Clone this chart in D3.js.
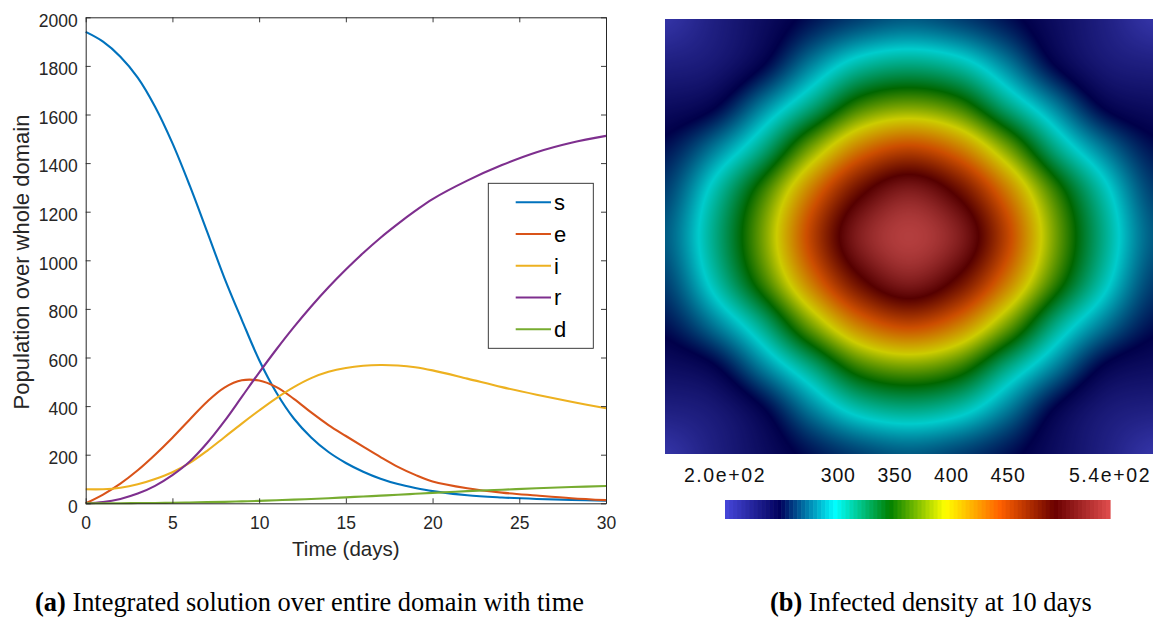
<!DOCTYPE html>
<html><head><meta charset="utf-8">
<script src="https://cdn.jsdelivr.net/npm/d3@7"></script>
<style>body{margin:0;background:#fff}svg{display:block}</style>
</head><body>
<svg id="fig" width="1154" height="618"></svg>
<script>
// ---------- data: left panel (integrated populations) ----------
const timeDays = [0,1,2,3,4,5,6,7,8,9,10,11,12,13,14,15,16,17,18,19,20,22,24,26,28,30];
const sValues = [1940,1900,1838,1752,1632,1482,1307,1118,927,755,590,455,349,271,211,166,130,101,79,63,50,33,24,18,14,11];
const eValues = [0,36,81,136,200,270,345,418,476,506,505,478,430,374,322,277,233,190,150,117,90,62,44,32,21,13];
const iValues = [58,58,64,78,100,128,166,216,272,328,382,433,478,515,541,557,566,569,567,560,547,513,478,447,418,391];
const rValues = [0,5,18,40,72,116,172,248,338,438,538,634,725,810,889,962,1030,1093,1150,1203,1252,1328,1392,1445,1484,1512];
const dValues = [0,0.2,0.5,1,1.5,2.3,3.5,4.8,6,8,10,12.5,15,18,21,24.5,28,31.5,35,39,43,50,56,62,67,71];
const seriesNames = ["s","e","i","r","d"];
const seriesColors = ["#0072BD","#D95319","#EDB120","#7E2F8E","#77AC30"];
const xTickValues = [0,5,10,15,20,25,30];
const yTickValues = [0,200,400,600,800,1000,1200,1400,1600,1800,2000];

// ---------- data: right panel (infected density at 10 days), 11x11 grid, top row first ----------
const densityGrid = [
  [205,222,238,253,264,270,264,253,238,222,205],
  [222,228,247,278,304,313,304,278,247,228,222],
  [238,247,279,316,359,373,359,316,279,247,238],
  [253,278,316,376,428,450,428,376,316,278,253],
  [264,304,359,428,487,516,487,428,359,304,264],
  [270,313,373,450,516,540,516,450,373,313,270],
  [264,304,359,428,487,516,487,428,359,304,264],
  [253,278,316,376,428,450,428,376,316,278,253],
  [238,247,279,316,359,373,359,316,279,247,238],
  [222,228,247,278,304,313,304,278,247,228,222],
  [205,222,238,253,264,270,264,253,238,222,205]
];
const densityRange = [200, 540];
const colormapColors = ["#4747db","#00005c","#00ffff","#008000","#ffff00","#ff6100","#6b0000","#e04d4d"];
const colorbarLabels = ["2.0e+02","300","350","400","450","5.4e+02"];
const colorbarLabelValues = [200,300,350,400,450,540];

// ---------- drawing ----------
const svg = d3.select("#fig");
const FONT = "'Liberation Sans', Arial, Helvetica, sans-serif";
const AX = "#262626";

// Left panel
const plot = {left:85.7, right:606, top:17.3, bottom:503.3};
const x = d3.scaleLinear().domain([0,30]).range([plot.left, plot.right]);
const y = d3.scaleLinear().domain([0,2000]).range([plot.bottom, plot.top]);

const gL = svg.append("g");
const seriesData = [sValues,eValues,iValues,rValues,dValues];
const line = d3.line().x((d,k)=>x(timeDays[k])).y(d=>y(d)).curve(d3.curveCatmullRom.alpha(0.5));
seriesData.forEach((vals, k) => {
  gL.append("path").attr("d", line(vals)).attr("fill","none")
    .attr("stroke", seriesColors[k]).attr("stroke-width", 2.1).attr("stroke-linejoin","round");
});

// axes (box, inward ticks)
const tick = 5;
const axB = d3.axisBottom(x).tickValues(xTickValues).tickSize(-tick).tickPadding(13).tickSizeOuter(0).tickFormat(d3.format("d"));
const axT = d3.axisTop(x).tickValues(xTickValues).tickSize(-tick).tickFormat("").tickSizeOuter(0);
const axLft = d3.axisLeft(y).tickValues(yTickValues).tickSize(-tick).tickPadding(8).tickSizeOuter(0).tickFormat(d3.format("d"));
const axR = d3.axisRight(y).tickValues(yTickValues).tickSize(-tick).tickFormat("").tickSizeOuter(0);
function style(g){
  g.selectAll("path.domain").attr("stroke",AX).attr("stroke-width",1);
  g.selectAll(".tick line").attr("stroke",AX).attr("stroke-width",0.9);
  g.selectAll(".tick text").attr("fill",AX).style("font-family",FONT).style("font-size","17.5px");
}
gL.append("g").attr("transform",`translate(0,${plot.bottom})`).call(axB).call(style)
  .selectAll(".tick text").attr("dy","0.71em");
gL.append("g").attr("transform",`translate(0,${plot.top})`).call(axT).call(style);
gL.append("g").attr("transform",`translate(${plot.left},0)`).call(axLft).call(style)
  .selectAll(".tick text").attr("dy","0.5em");
gL.append("g").attr("transform",`translate(${plot.right},0)`).call(axR).call(style);

gL.append("text").attr("x",(plot.left+plot.right)/2).attr("y",556)
  .attr("text-anchor","middle").attr("fill",AX).style("font-family",FONT).style("font-size","20.5px")
  .text("Time (days)");
gL.append("text").attr("transform","translate(29,262) rotate(-90)")
  .attr("text-anchor","middle").attr("fill",AX).style("font-family",FONT).style("font-size","22px")
  .text("Population over whole domain");

// legend
const lg = gL.append("g");
lg.append("rect").attr("x",488.3).attr("y",183.3).attr("width",105).attr("height",165)
  .attr("fill","#fff").attr("stroke",AX).attr("stroke-width",0.9);
seriesNames.forEach((nm,k)=>{
  const yy = 202.3 + k*31.75;
  lg.append("line").attr("x1",515.7).attr("x2",551).attr("y1",yy).attr("y2",yy)
    .attr("stroke",seriesColors[k]).attr("stroke-width",2.1);
  lg.append("text").attr("x",554).attr("y",yy+7.8).attr("fill","#000")
    .style("font-family",FONT).style("font-size","22px").text(nm);
});

// Right panel heatmap
const img = {left:665, top:19, width:488, height:435};
const nGrid = densityGrid.length - 1;
const colorStops = colormapColors.map((c,k)=> densityRange[0] + k*(densityRange[1]-densityRange[0])/(colormapColors.length-1));
const color = d3.scaleLinear().domain(colorStops).range(colormapColors).clamp(true);

function cubic(p0,p1,p2,p3,t){
  return p1 + 0.5*t*(p2-p0 + t*(2*p0-5*p1+4*p2-p3 + t*(3*(p1-p2)+p3-p0)));
}
function sampleGrid(gx, gy){
  const ix = Math.min(nGrid-1, Math.max(0, Math.floor(gx))), fx = gx-ix;
  const iy = Math.min(nGrid-1, Math.max(0, Math.floor(gy))), fy = gy-iy;
  const cl = v => Math.min(nGrid, Math.max(0, v));
  const rows = [];
  for (let j=-1;j<=2;j++){
    const r = densityGrid[cl(iy+j)];
    rows.push(cubic(r[cl(ix-1)], r[cl(ix)], r[cl(ix+1)], r[cl(ix+2)], fx));
  }
  return cubic(rows[0],rows[1],rows[2],rows[3],fy);
}
const gx = d3.scaleLinear().domain([0, img.width]).range([0, nGrid]);
const gy = d3.scaleLinear().domain([0, img.height]).range([0, nGrid]);
const cv = document.createElement("canvas");
cv.width = img.width; cv.height = img.height;
const ctx = cv.getContext("2d");
const id = ctx.createImageData(img.width, img.height);
const shade = 0.8;
for (let py=0; py<img.height; py++){
  for (let px=0; px<img.width; px++){
    const v = sampleGrid(gx(px+0.5), gy(py+0.5));
    const c = d3.rgb(color(v));
    const o = 4*(py*img.width+px);
    id.data[o] = c.r*shade; id.data[o+1] = c.g*shade; id.data[o+2] = c.b*shade; id.data[o+3] = 255;
  }
}
ctx.putImageData(id,0,0);
svg.append("image").attr("x",img.left).attr("y",img.top).attr("width",img.width).attr("height",img.height)
  .attr("preserveAspectRatio","none").attr("href", cv.toDataURL());

// colorbar
const cb = {left:725, right:1110, top:500, height:19};
const cbx = d3.scaleLinear().domain(densityRange).range([cb.left, cb.right]);
const nSteps = 96;
const stepVals = d3.range(nSteps).map(k => densityRange[0] + (k+0.5)*(densityRange[1]-densityRange[0])/nSteps);
const stepW = (cb.right-cb.left)/nSteps;
svg.append("g").selectAll("rect").data(stepVals).join("rect")
  .attr("x",(d,k)=>cb.left + k*stepW).attr("y",cb.top).attr("width",stepW+0.6).attr("height",cb.height)
  .attr("fill",d=>color(d));
svg.append("g").selectAll("text").data(colorbarLabels).join("text")
  .attr("x",(d,k)=>cbx(colorbarLabelValues[k])).attr("y",482)
  .attr("text-anchor","middle").attr("fill","#111").style("font-family",FONT).style("font-size","19.5px")
  .style("letter-spacing",(d)=> d.includes("e") ? "1.6px" : "0.8px")
  .text(d=>d);

// captions
const SERIF = "'Liberation Serif', 'Times New Roman', Times, serif";
const capA = svg.append("text").attr("x",35).attr("y",611).style("font-family",SERIF).style("font-size","26.4px").attr("fill","#000");
capA.append("tspan").style("font-weight","bold").text("(a)");
capA.append("tspan").text(" Integrated solution over entire domain with time");
const capB = svg.append("text").attr("x",770).attr("y",611).style("font-family",SERIF).style("font-size","26.4px").attr("fill","#000");
capB.append("tspan").style("font-weight","bold").text("(b)");
capB.append("tspan").text(" Infected density at 10 days");
</script>
</body></html>
